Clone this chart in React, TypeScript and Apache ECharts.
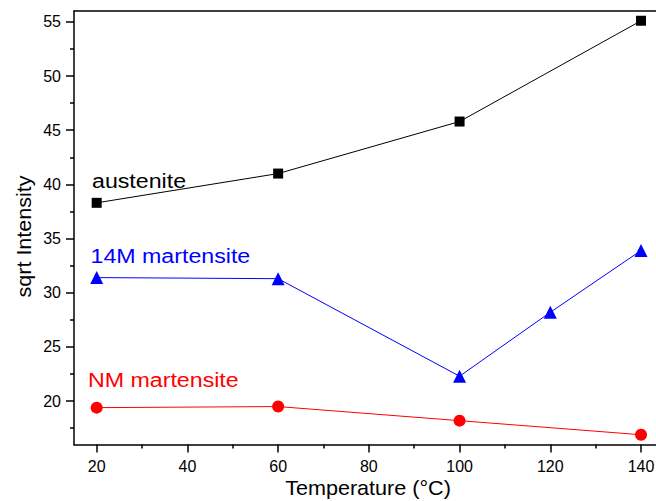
import React, { useEffect, useRef } from "react";
import * as echarts from "echarts";

const temps = [20, 60, 100, 140];
const austenite = [38.3, 41.0, 45.8, 55.1];
const temps14M = [20, 60, 100, 120, 140];
const m14 = [31.4, 31.3, 22.3, 28.2, 33.9];
const nm = [19.4, 19.5, 18.2, 16.9];

const xMajor = [20, 40, 60, 80, 100, 120, 140];
const xMinor = [30, 50, 70, 90, 110, 130];
const yMajor = [20, 25, 30, 35, 40, 45, 50, 55];
const yMinor = [17.5, 22.5, 27.5, 32.5, 37.5, 42.5, 47.5, 52.5];

const FONT = "'Liberation Sans', Arial, sans-serif";

export default function App() {
  const ref = useRef<HTMLDivElement>(null);
  useEffect(() => {
    const chart = echarts.init(ref.current!, null, { renderer: "svg" });
    const axisLineStyle = { color: "#000", width: 1.5 };
    const tickStyle = { color: "#000", width: 1.5 };
    chart.setOption({
      animation: false,
      backgroundColor: "#fff",
      grid: { left: 74, top: 11, right: 0, bottom: 56.5, outerBoundsMode: "none", containLabel: false },
      xAxis: [
        {
          type: "value",
          min: 15,
          max: 143.3,
          position: "bottom",
          axisLine: { show: true, lineStyle: axisLineStyle },
          axisTick: { show: true, customValues: xMajor, length: 8, lineStyle: tickStyle },
          axisLabel: { customValues: xMajor, fontFamily: FONT, fontSize: 16, color: "#000", margin: 14 },
          splitLine: { show: false },
        },
        {
          type: "value",
          min: 15,
          max: 143.3,
          position: "bottom",
          offset: 0,
          axisLine: { show: false },
          axisTick: { show: true, customValues: xMinor, length: 4, lineStyle: tickStyle },
          axisLabel: { show: false },
          splitLine: { show: false },
        },
        {
          type: "value",
          min: 15,
          max: 143.3,
          position: "top",
          offset: 0,
          axisLine: { show: true, lineStyle: axisLineStyle },
          axisTick: { show: false },
          axisLabel: { show: false },
          splitLine: { show: false },
        },
      ],
      yAxis: [
        {
          type: "value",
          min: 16,
          max: 56,
          position: "left",
          axisLine: { show: true, lineStyle: axisLineStyle },
          axisTick: { show: true, customValues: yMajor, length: 8, lineStyle: tickStyle },
          axisLabel: { customValues: yMajor, fontFamily: FONT, fontSize: 16, color: "#000", margin: 13 },
          splitLine: { show: false },
        },
        {
          type: "value",
          min: 16,
          max: 56,
          position: "left",
          offset: 0,
          axisLine: { show: false },
          axisTick: { show: true, customValues: yMinor, length: 4, lineStyle: tickStyle },
          axisLabel: { show: false },
          splitLine: { show: false },
        },
      ],
      series: [
        {
          type: "line",
          name: "austenite",
          data: temps.map((t, i) => [t, austenite[i]]),
          symbol: "rect",
          symbolSize: 10,
          lineStyle: { color: "#000", width: 1 },
          itemStyle: { color: "#000" },
        },
        {
          type: "line",
          name: "14M martensite",
          data: temps14M.map((t, i) => [t, m14[i]]),
          symbol: "triangle",
          symbolSize: 13,
          lineStyle: { color: "#0000ff", width: 1 },
          itemStyle: { color: "#0000ff" },
        },
        {
          type: "line",
          name: "NM martensite",
          data: temps.map((t, i) => [t, nm[i]]),
          symbol: "circle",
          symbolSize: 12,
          lineStyle: { color: "#ff0000", width: 1 },
          itemStyle: { color: "#ff0000" },
        },
      ],
      graphic: [
        {
          type: "text",
          x: 92,
          y: 181.5,
          scaleX: 1.16,
          style: { text: "austenite", fill: "#000", font: `20px ${FONT}`, align: "left", verticalAlign: "middle" },
        },
        {
          type: "text",
          x: 90.5,
          y: 256.3,
          scaleX: 1.16,
          style: { text: "14M martensite", fill: "#0000ff", font: `20px ${FONT}`, align: "left", verticalAlign: "middle" },
        },
        {
          type: "text",
          x: 88,
          y: 380,
          scaleX: 1.16,
          style: { text: "NM martensite", fill: "#ff0000", font: `20px ${FONT}`, align: "left", verticalAlign: "middle" },
        },
        {
          type: "text",
          x: 368,
          y: 488,
          scaleX: 1.08,
          style: { text: "Temperature (°C)", fill: "#000", font: `20px ${FONT}`, align: "center", verticalAlign: "middle" },
        },
        {
          type: "text",
          x: 24,
          y: 236.5,
          rotation: Math.PI / 2,
          scaleX: 1.075,
          style: { text: "sqrt Intensity", fill: "#000", font: `20px ${FONT}`, align: "center", verticalAlign: "middle" },
        },
      ],
    });
    return () => chart.dispose();
  }, []);
  return <div ref={ref} style={{ width: 656, height: 501, position: "absolute", left: 0, top: 0 }} />;
}
